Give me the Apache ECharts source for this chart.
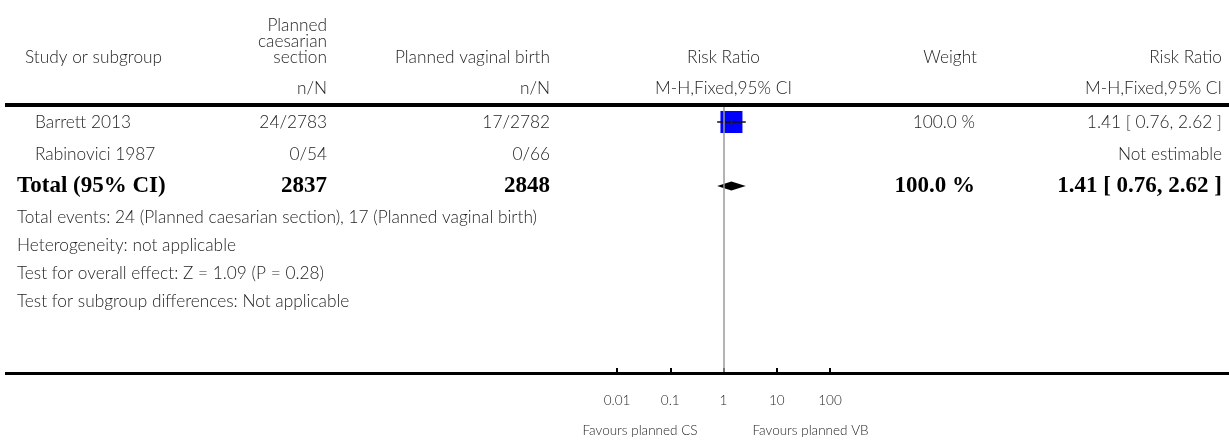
<!DOCTYPE html>
<html>
<head>
<meta charset="utf-8">
<script src="https://cdn.jsdelivr.net/npm/echarts@6/dist/echarts.min.js"></script>
<style>
  html, body { margin: 0; padding: 0; background: #fff; }
  #chart { width: 1229px; height: 440px; }
</style>
</head>
<body>
<div id="chart"></div>
<script>
// ---- data ----
const studies = ['Barrett 2013', 'Rabinovici 1987'];
const csEvents = ['24/2783', '0/54'];
const vbEvents = ['17/2782', '0/66'];
const studyRR = [1.41, null];
const studyLow = [0.76, null];
const studyHigh = [2.62, null];
const studyWeight = [100.0, null];
const studyWeightText = ['100.0 %', ''];
const studyRRText = ['1.41 [ 0.76, 2.62 ]', 'Not estimable'];

const totalLabel = 'Total (95% CI)';
const totalCS = '2837';
const totalVB = '2848';
const totalRR = 1.41;
const totalLow = 0.76;
const totalHigh = 2.62;
const totalWeightText = '100.0 %';
const totalRRText = '1.41 [ 0.76, 2.62 ]';

const footnotes = [
  'Total events: 24 (Planned caesarian section), 17 (Planned vaginal birth)',
  'Heterogeneity: not applicable',
  'Test for overall effect: Z = 1.09 (P = 0.28)',
  'Test for subgroup differences: Not applicable'
];

const tickValues = [0.01, 0.1, 1, 10, 100];
const tickLabels = ['0.01', '0.1', '1', '10', '100'];
const favoursLeft = 'Favours planned CS';
const favoursRight = 'Favours planned VB';

const headerStudy = 'Study or subgroup';
const headerCS = 'Planned\ncaesarian\nsection';
const headerVB = 'Planned vaginal birth';
const headerRR = 'Risk Ratio';
const headerWeight = 'Weight';
const subHeaderNN = 'n/N';
const subHeaderMethod = 'M-H,Fixed,95% CI';

// ---- layout ----
const W = 1229;
const SANS = 'Lato, "Open Sans", sans-serif';
const SERIF = '"Liberation Serif", "DejaVu Serif", serif';
const TEXT = '#1e1e1e';
const FONT = 17.3;
const WEIGHT = 300;
const ROW_H = 32;
const FIRST_ROW = 122;
const GRID_TOP = FIRST_ROW - ROW_H / 2;
const AXIS_Y = 373;
const FOOT_GAP = 31;
const FOOT_H = 28;
const COL = { study: 35, total: 17, cs: 327, vb: 550, weight: 977, est: 1222 };

const chart = echarts.init(document.getElementById('chart'), null, { renderer: 'canvas' });

const studyPoints = [];
studies.forEach((s, i) => {
  if (studyRR[i] != null) studyPoints.push([studyLow[i], studyRR[i], studyHigh[i], i, studyWeight[i]]);
});

chart.setOption({
  animation: false,
  backgroundColor: '#fff',
  grid: { left: 617, width: 213, top: GRID_TOP, height: AXIS_Y - GRID_TOP, containLabel: false },
  xAxis: {
    type: 'log',
    logBase: 10,
    position: 'bottom',
    min: tickValues[0],
    max: tickValues[tickValues.length - 1],
    axisLine: { show: false, onZero: false },
    axisTick: { show: true, inside: true, length: 5, lineStyle: { color: '#000', width: 2 } },
    splitLine: { show: false },
    axisLabel: {
      margin: 21,
      fontFamily: SANS,
      fontWeight: WEIGHT,
      fontSize: 13.5,
      color: TEXT,
      formatter: v => {
        const k = tickValues.findIndex(t => Math.abs(Math.log10(t) - Math.log10(v)) < 1e-6);
        return k >= 0 ? tickLabels[k] : '';
      }
    }
  },
  yAxis: {
    type: 'value',
    inverse: true,
    min: -0.5,
    max: -0.5 + (AXIS_Y - GRID_TOP) / ROW_H,
    show: false
  },
  series: [
    {
      // line of no effect
      type: 'line',
      data: [],
      markLine: {
        silent: true,
        symbol: 'none',
        label: { show: false },
        lineStyle: { color: '#9a9a9a', width: 1.5, type: 'solid' },
        data: [{ xAxis: 1 }]
      }
    },
    {
      // study weight squares
      type: 'custom',
      renderItem(params, api) {
        const c = api.coord([api.value(1), api.value(3)]);
        const side = 22 * api.value(4) / 100;
        return {
          type: 'rect',
          shape: { x: c[0] - side / 2, y: c[1] - side / 2, width: side, height: side },
          style: { fill: '#0000ff' }
        };
      },
      data: studyPoints,
      z: 3
    },
    {
      // study confidence intervals
      type: 'custom',
      renderItem(params, api) {
        const l = api.coord([api.value(0), api.value(3)]);
        const c = api.coord([api.value(1), api.value(3)]);
        const r = api.coord([api.value(2), api.value(3)]);
        return {
          type: 'group',
          children: [
            { type: 'line', shape: { x1: l[0], y1: l[1], x2: r[0], y2: r[1] }, style: { stroke: '#111', lineWidth: 1.5 } },
            { type: 'line', shape: { x1: c[0], y1: c[1] - 3, x2: c[0], y2: c[1] + 3 }, style: { stroke: '#222', lineWidth: 1.5 } }
          ]
        };
      },
      data: studyPoints,
      z: 4
    },
    {
      // pooled estimate diamond
      type: 'custom',
      renderItem(params, api) {
        const l = api.coord([api.value(0), api.value(3)]);
        const c = api.coord([api.value(1), api.value(3)]);
        const r = api.coord([api.value(2), api.value(3)]);
        const h = 4.5;
        return {
          type: 'polygon',
          shape: { points: [[l[0], c[1]], [c[0], c[1] - h], [r[0], c[1]], [c[0], c[1] + h]] },
          style: { fill: '#000' }
        };
      },
      data: [[totalLow, totalRR, totalHigh, studies.length]],
      z: 4
    }
  ]
});

// ---- table text, placed on the rows of the y scale ----
const rowY = i => chart.convertToPixel({ yAxisIndex: 0 }, i);
const xOne = chart.convertToPixel({ xAxisIndex: 0 }, 1);

const g = [];
const txt = (x, y, text, align, opts) => g.push({
  type: 'text', x, y, z: 10,
  style: Object.assign({
    text, align, verticalAlign: 'middle',
    fontFamily: SANS, fontWeight: WEIGHT, fontSize: FONT, fill: TEXT
  }, opts || {})
});

// header
txt(25, 57, headerStudy, 'left');
txt(COL.cs, 41, headerCS, 'right', { lineHeight: 16 });
txt(COL.vb, 57, headerVB, 'right');
txt(xOne, 57, headerRR, 'center');
txt(COL.weight, 57, headerWeight, 'right');
txt(COL.est, 57, headerRR, 'right');
txt(COL.cs, 88, subHeaderNN, 'right');
txt(COL.vb, 88, subHeaderNN, 'right');
txt(xOne, 88, subHeaderMethod, 'center');
txt(COL.est, 88, subHeaderMethod, 'right');

// rules
g.push({ type: 'rect', shape: { x: 5, y: 103, width: W - 5, height: 4 }, style: { fill: '#000' }, z: 9 });
g.push({ type: 'rect', shape: { x: 5, y: AXIS_Y - 1, width: W - 5, height: 3 }, style: { fill: '#000' }, z: 9 });

// study rows
studies.forEach((s, i) => {
  const y = rowY(i);
  txt(COL.study, y, s, 'left');
  txt(COL.cs, y, csEvents[i], 'right');
  txt(COL.vb, y, vbEvents[i], 'right');
  if (studyWeightText[i]) txt(COL.weight - 2, y, studyWeightText[i], 'right');
  txt(COL.est, y, studyRRText[i], 'right');
});

// total row
const bold = { fontFamily: SERIF, fontWeight: 'bold', fontSize: 23, fill: '#000' };
const ty = rowY(studies.length);
txt(COL.total, ty, totalLabel, 'left', bold);
txt(COL.cs, ty, totalCS, 'right', bold);
txt(COL.vb, ty, totalVB, 'right', bold);
txt(COL.weight - 2, ty, totalWeightText, 'right', bold);
txt(COL.est, ty, totalRRText, 'right', bold);

// footnotes
footnotes.forEach((f, i) => txt(COL.total, ty + FOOT_GAP + i * FOOT_H, f, 'left'));

// favours labels
txt(xOne - 26, 431, favoursLeft, 'right', { fontSize: 13.5 });
txt(xOne + 29, 431, favoursRight, 'left', { fontSize: 13.5 });

chart.setOption({ graphic: g });
</script>
</body>
</html>
